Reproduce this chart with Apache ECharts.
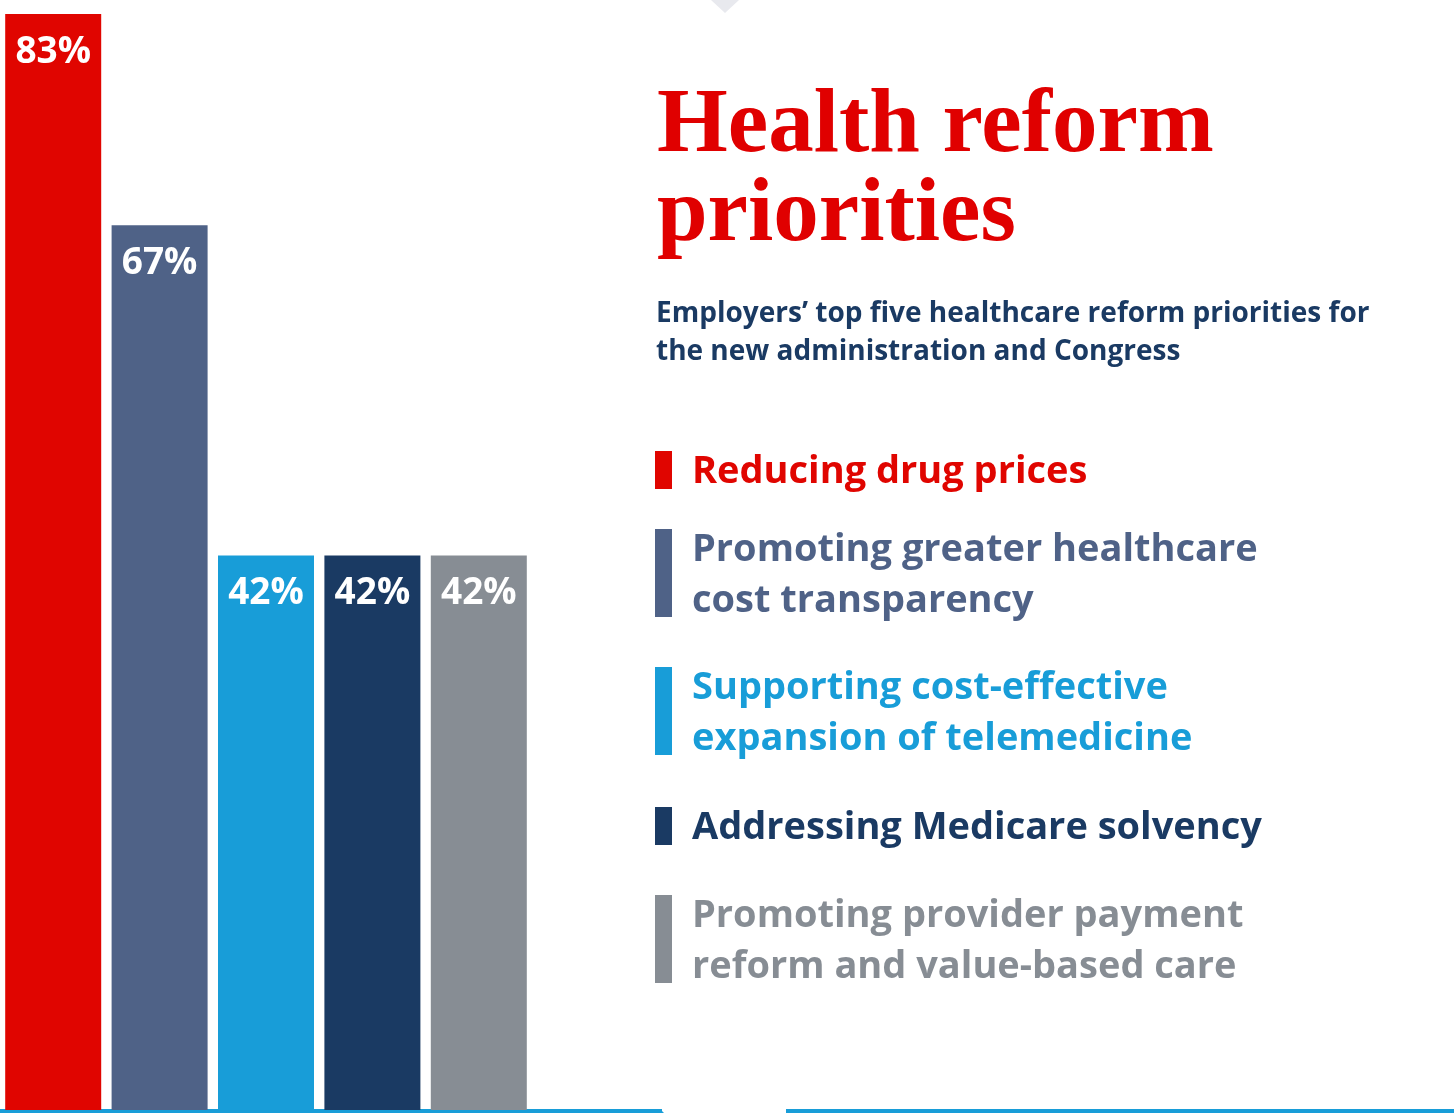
<!DOCTYPE html>
<html>
<head>
<meta charset="utf-8">
<script src="https://cdn.jsdelivr.net/npm/echarts@6/dist/echarts.min.js"></script>
<style>
html,body{margin:0;padding:0;background:#fff;}
#chart{width:1454px;height:1113px;}
</style>
</head>
<body>
<div id="chart"></div>
<script>
const categories = [
  'Reducing drug prices',
  'Promoting greater healthcare\ncost transparency',
  'Supporting cost-effective\nexpansion of telemedicine',
  'Addressing Medicare solvency',
  'Promoting provider payment\nreform and value-based care'
];
const values = [83, 67, 42, 42, 42];
const colors = ['#E00500', '#4F6287', '#189DD8', '#1A3A63', '#878D94'];
const titleText = 'Health reform\npriorities';
const subtitleText = 'Employers\u2019 top five healthcare reform priorities for\nthe new administration and Congress';

const FONT = '"Open Sans", "Noto Sans", sans-serif';
const chart = echarts.init(document.getElementById('chart'));

// legend layout (graphic items)
const legendTops = [451, 529, 667, 807, 895];
const legendGraphics = [];
categories.forEach((c, i) => {
  const lines = c.split('\n').length;
  legendGraphics.push({
    type: 'rect', left: 655, top: legendTops[i],
    shape: { width: 17, height: lines === 1 ? 38 : 88 },
    style: { fill: colors[i] }
  });
  legendGraphics.push({
    type: 'text', left: 692, top: legendTops[i] - 4,
    style: {
      text: c, fill: colors[i], font: 'bold 38px ' + FONT,
      lineHeight: 51
    }
  });
});

chart.setOption({
  animation: false,
  backgroundColor: '#fff',
  title: [{
    text: titleText,
    left: 652, top: 78,
    textStyle: {
      fontFamily: '"Liberation Serif", "DejaVu Serif", serif',
      fontWeight: 'bold', fontSize: 91, color: '#E00000', lineHeight: 89
    }
  }, {
    text: subtitleText,
    left: 651, top: 290,
    textStyle: {
      fontFamily: FONT, fontWeight: 'bold', fontSize: 28,
      color: '#1A3A63', lineHeight: 38
    }
  }],
  grid: { left: 0, top: 14, width: 532, bottom: 3, containLabel: false },
  xAxis: {
    type: 'category', data: categories,
    axisLine: { show: false }, axisTick: { show: false }, axisLabel: { show: false }
  },
  yAxis: {
    type: 'value', min: 0, max: 83,
    splitLine: { show: false }, axisLine: { show: false },
    axisTick: { show: false }, axisLabel: { show: false }
  },
  series: [{
    type: 'bar',
    barWidth: 96,
    data: values.map((v, i) => ({ value: v, itemStyle: { color: colors[i] } })),
    label: {
      show: true, position: 'insideTop', distance: 20,
      formatter: '{c}%', color: '#fff',
      fontFamily: FONT, fontWeight: 'bold', fontSize: 37
    }
  }],
  graphic: [
    { type: 'polygon', shape: { points: [[711, 0], [739, 0], [725, 13]] }, style: { fill: '#E8E9EE' } },
    { type: 'rect', left: 0, top: 1109, shape: { width: 662, height: 4 }, style: { fill: '#189DD8' } },
    { type: 'polygon', shape: { points: [[660, 1109], [664, 1113], [660, 1113]] }, style: { fill: '#189DD8' } },
    { type: 'rect', left: 786, top: 1109, shape: { width: 668, height: 4 }, style: { fill: '#189DD8' } }
  ].concat(legendGraphics)
});
</script>
</body>
</html>
